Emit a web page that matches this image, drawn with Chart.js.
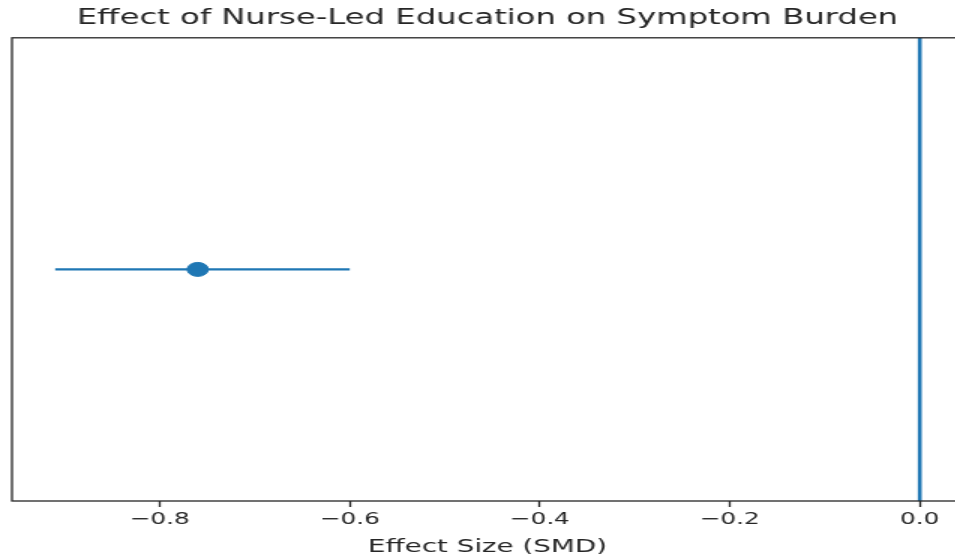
<!DOCTYPE html>
<html>
<head>
<meta charset="utf-8">
<script src="https://cdn.jsdelivr.net/npm/chart.js@4.4.1/dist/chart.umd.min.js"></script>
<style>
  html, body { margin: 0; padding: 0; background: #fff; overflow: hidden; width: 955px; height: 558px; }
  /* reference is stretched sideways, so draw narrow and scale by 1.5 */
  #wrap { position: absolute; left: 0; top: 0; width: 650px; height: 558px; transform: scaleX(1.5); transform-origin: 0 0; }
</style>
</head>
<body>
<div id="wrap"><canvas id="forest"></canvas></div>
<script>
// data
const STUDY_LABELS = ['Nurse-led education'];
const EFFECTS = [-0.76];
const CI_LOW = [-0.91];
const CI_HIGH = [-0.60];
const ROW_Y = [0];
const ZERO_LINE = [0];
const X_TICKS = [-0.8, -0.6, -0.4, -0.2, 0.0];
const X_RANGE = [-0.9555, 0.0455];
const Y_RANGE = [-1, 1];

const BLUE = '#1f77b4';
const INK = '#262626';

// matplotlib style box round the axes
const framePlugin = {
    id: 'frame',
    afterDraw(chart) {
        const { ctx, chartArea: a } = chart;
        ctx.save();
        ctx.strokeStyle = INK;
        ctx.lineWidth = 1.3;
        ctx.strokeRect(a.left, a.top, a.right - a.left, a.bottom - a.top);
        ctx.restore();
    }
};

const ciData = [];
STUDY_LABELS.forEach((_, i) => {
    ciData.push({ x: CI_LOW[i], y: ROW_Y[i] }, { x: CI_HIGH[i], y: ROW_Y[i] }, { x: NaN, y: NaN });
});

new Chart(document.getElementById('forest'), {
    type: 'scatter',
    data: {
        datasets: [
            {
                label: 'No effect',
                type: 'line',
                data: [{ x: ZERO_LINE[0], y: Y_RANGE[0] }, { x: ZERO_LINE[0], y: Y_RANGE[1] }],
                borderColor: BLUE, borderWidth: 2.6, pointRadius: 0, fill: false
            },
            {
                label: '95% CI',
                type: 'line',
                data: ciData,
                borderColor: BLUE, borderWidth: 2.4, pointRadius: 0, fill: false, spanGaps: false
            },
            {
                label: 'SMD',
                data: EFFECTS.map((v, i) => ({ x: v, y: ROW_Y[i] })),
                backgroundColor: BLUE, borderColor: BLUE, pointRadius: 7, pointHoverRadius: 7
            }
        ]
    },
    options: {
        responsive: true, maintainAspectRatio: false, animation: false,
        layout: { padding: { left: 8, right: 0, top: 0, bottom: 0 } },
        plugins: {
            legend: { display: false },
            tooltip: { enabled: false },
            title: {
                display: true, fullSize: false,
                text: 'Effect of Nurse-Led Education on Symptom Burden',
                color: INK, font: { family: 'DejaVu Sans', size: 21.5, weight: 'normal' },
                padding: { top: 6, bottom: 6 }
            }
        },
        scales: {
            x: {
                type: 'linear', min: X_RANGE[0], max: X_RANGE[1],
                afterBuildTicks: s => { s.ticks = X_TICKS.map(v => ({ value: v })); },
                grid: { display: true, drawOnChartArea: false, drawTicks: true, tickLength: 6, tickColor: INK, tickWidth: 1.3 },
                border: { display: false },
                ticks: {
                    color: INK, padding: 3, maxRotation: 0,
                    font: { family: 'DejaVu Sans', size: 16.5 },
                    callback: v => Number(v).toFixed(1).replace('-', '\u2212')
                },
                title: {
                    display: true, text: 'Effect Size (SMD)', color: INK,
                    font: { family: 'DejaVu Sans', size: 18.5 },
                    padding: { top: 3, bottom: 0 }
                }
            },
            y: {
                type: 'linear', min: Y_RANGE[0], max: Y_RANGE[1], display: false
            }
        }
    },
    plugins: [framePlugin]
});
</script>
</body>
</html>
